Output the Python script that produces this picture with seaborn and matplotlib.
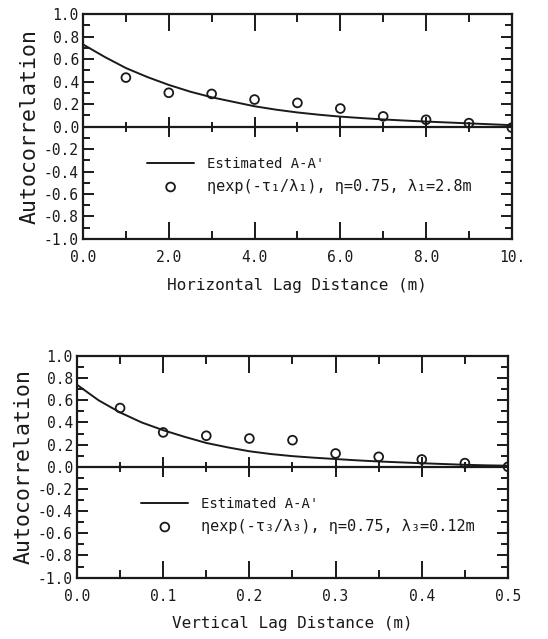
import numpy as np
import pandas as pd
import seaborn as sns
import matplotlib.pyplot as plt
from matplotlib.ticker import MultipleLocator, FixedFormatter, FixedLocator

# Datos
# Horizontal
h_dist = [0.0, 0.5, 1.0, 1.5, 2.0, 2.5, 3.0, 3.5, 4.0, 4.5, 5.0,
          5.5, 6.0, 6.5, 7.0, 7.5, 8.0, 8.5, 9.0, 9.5, 10.0]
h_est = [0.73, 0.62, 0.52, 0.44, 0.37, 0.31, 0.26, 0.22, 0.18, 0.15, 0.125,
         0.105, 0.088, 0.075, 0.063, 0.053, 0.044, 0.036, 0.028, 0.02, 0.012]
h_lag = [1, 2, 3, 4, 5, 6, 7, 8, 9, 10]
h_exp = [0.435, 0.30, 0.29, 0.24, 0.21, 0.16, 0.09, 0.06, 0.03, -0.01]
h_ticklabels = ["0.0", "2.0", "4.0", "6.0", "8.0", "10."]

# Vertical
v_dist = [0.0, 0.025, 0.05, 0.075, 0.1, 0.125, 0.15, 0.175, 0.2, 0.225, 0.25,
          0.275, 0.3, 0.325, 0.35, 0.375, 0.4, 0.425, 0.45, 0.475, 0.5]
v_est = [0.74, 0.60, 0.49, 0.40, 0.33, 0.27, 0.215, 0.175, 0.14, 0.115, 0.096,
         0.082, 0.07, 0.058, 0.048, 0.04, 0.032, 0.025, 0.018, 0.013, 0.01]
v_lag = [0.05, 0.1, 0.15, 0.2, 0.25, 0.3, 0.35, 0.4, 0.45, 0.5]
v_exp = [0.53, 0.31, 0.28, 0.255, 0.24, 0.12, 0.09, 0.066, 0.033, 0.0]
v_ticklabels = ["0.0", "0.1", "0.2", "0.3", "0.4", "0.5"]

lbl_est = "Estimated A-A'"
lbl_h = "ηexp(-τ₁/λ₁), η=0.75, λ₁=2.8m"
lbl_v = "ηexp(-τ₃/λ₃), η=0.75, λ₃=0.12m"

sns.set_style("ticks")
plt.rcParams["font.family"] = ["DejaVu Sans Mono", "DejaVu Sans"]
plt.rcParams["text.color"] = "#1a1a1a"
plt.rcParams["axes.labelcolor"] = "#1a1a1a"
plt.rcParams["xtick.color"] = "#1a1a1a"
plt.rcParams["ytick.color"] = "#1a1a1a"

fig = plt.figure(figsize=(5.48, 6.39), dpi=100)
ax1 = fig.add_axes([0.1515, 0.626, 0.7825, 0.352])
ax2 = fig.add_axes([0.1405, 0.096, 0.7865, 0.347])


def panel(ax, dist, est, lag, expv, xmax, major, minor, ticklabels, xlabel, lbl):
    df_line = pd.DataFrame({"d": dist, "r": est})
    df_pts = pd.DataFrame({"d": lag, "r": expv})
    ax.axhline(0, color="#1a1a1a", lw=1.6, zorder=1)
    sns.lineplot(data=df_line, x="d", y="r", ax=ax, color="#1a1a1a", lw=1.4,
                 label=lbl_est, zorder=3)
    sns.scatterplot(data=df_pts, x="d", y="r", ax=ax, marker="o", s=40,
                    facecolor="none", edgecolor="#1a1a1a", linewidth=1.3,
                    label=lbl, zorder=4)
    # marcas sobre la linea del cero
    majors = np.arange(0, xmax + 1e-9, major)
    minors = np.arange(0, xmax + 1e-9, minor)
    ax.plot(minors, np.zeros(len(minors)), marker="|", ms=7, mew=1.4,
            ls="none", color="#1a1a1a", zorder=2)
    ax.plot(majors, np.zeros(len(majors)), marker="|", ms=15, mew=1.4,
            ls="none", color="#1a1a1a", zorder=2)

    ax.set_xlim(0, xmax)
    ax.set_ylim(-1.0, 1.0)
    ax.xaxis.set_major_locator(FixedLocator(majors))
    ax.xaxis.set_major_formatter(FixedFormatter(ticklabels))
    ax.xaxis.set_minor_locator(MultipleLocator(minor))
    ax.yaxis.set_major_locator(MultipleLocator(0.2))
    ax.yaxis.set_minor_locator(MultipleLocator(0.1))
    ax.yaxis.set_major_formatter(plt.FuncFormatter(lambda v, p: f"{v:.1f}"))
    ax.tick_params(which="both", direction="in", top=True, right=True,
                   labelsize=10.5, width=1.4)
    ax.tick_params(axis="x", which="major", length=12, pad=8)
    ax.tick_params(axis="x", which="minor", length=6)
    ax.tick_params(axis="y", which="major", length=8, pad=3)
    ax.tick_params(axis="y", which="minor", length=5)
    for s in ax.spines.values():
        s.set_linewidth(1.6)
        s.set_color("#1a1a1a")
    ax.set_xlabel(xlabel, fontsize=11.5, labelpad=9)
    ax.set_ylabel("Autocorrelation", fontsize=15.5, labelpad=3)
    leg = ax.legend(loc="upper left", bbox_to_anchor=(0.12, 0.42),
                    frameon=False, fontsize=10, handlelength=3.4,
                    handletextpad=0.9, labelspacing=0.55)
    leg.get_texts()[1].set_fontsize(11)


panel(ax1, h_dist, h_est, h_lag, h_exp, 10.0, 2.0, 1.0, h_ticklabels,
      "Horizontal Lag Distance (m)", lbl_h)
panel(ax2, v_dist, v_est, v_lag, v_exp, 0.5, 0.1, 0.05, v_ticklabels,
      "Vertical Lag Distance (m)", lbl_v)

plt.savefig("out.png", dpi=100)
plt.close()
